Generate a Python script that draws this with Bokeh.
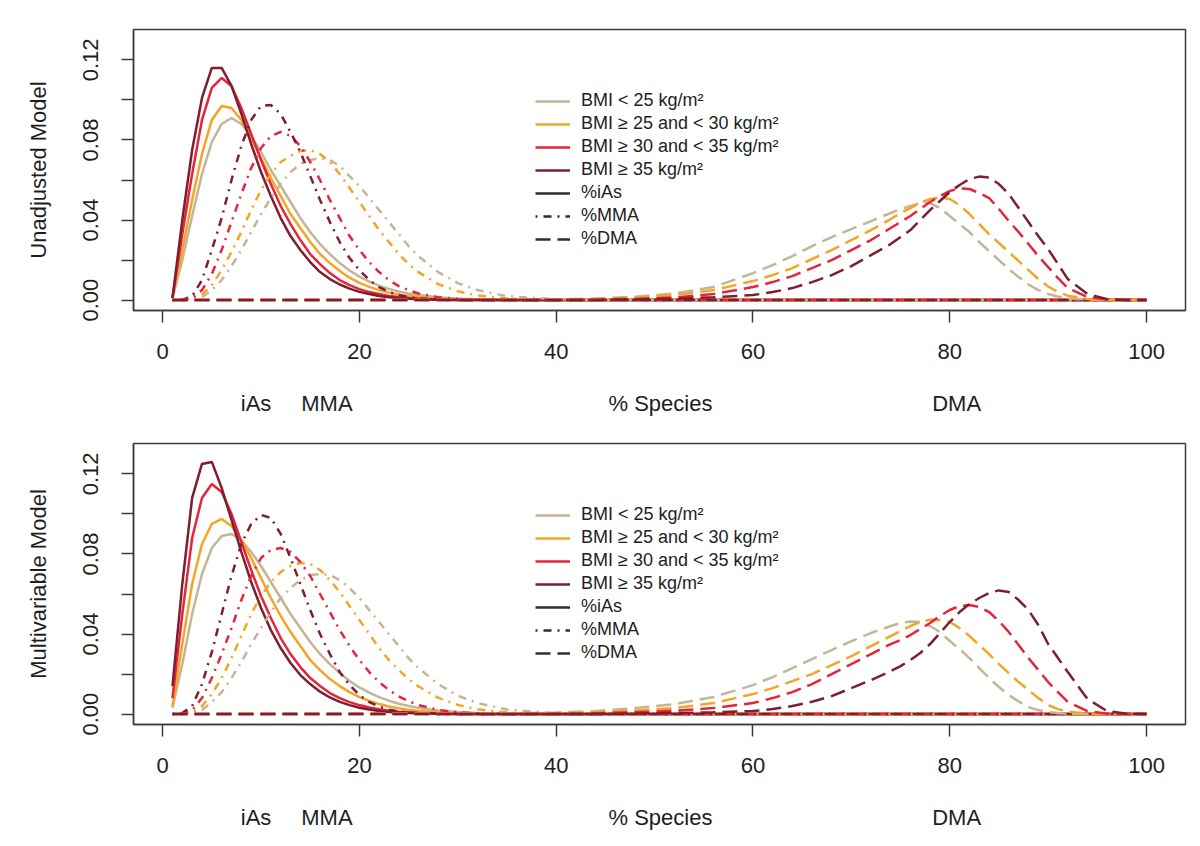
from bokeh.plotting import figure
from bokeh.layouts import column
from bokeh.models import (Range1d, FixedTicker, LinearAxis, Legend, LegendItem,
                          NumeralTickFormatter, CustomJSTickFormatter)
from bokeh.embed import file_html
from bokeh.resources import INLINE

# ---------------- data ----------------
GROUPS = ["BMI < 25 kg/m\u00b2", "BMI \u2265 25 and < 30 kg/m\u00b2",
          "BMI \u2265 30 and < 35 kg/m\u00b2", "BMI \u2265 35 kg/m\u00b2"]
COLORS = ["#c4b597", "#f5a524", "#e8233a", "#7d1f2e"]
SPECIES = ["%iAs", "%MMA", "%DMA"]
PANEL_TITLES = ["Unadjusted Model", "Multivariable Model"]
AXIS_NAMES = ["iAs", "MMA", "% Species", "DMA"]
AXIS_NAME_POS = [9.5, 16.7, 50.6, 80.7]
X_TICKS = [0, 20, 40, 60, 80, 100]
Y_TICKS = [0.0, 0.04, 0.08, 0.12]
Y_MINOR = [0.02, 0.06, 0.10]

# x grid for iAs / MMA densities
XS = [1, 2, 3, 4, 5, 6, 7, 8, 9, 10, 11, 12, 13, 14, 15, 16, 17, 18, 19, 20,
      21, 22, 23, 24, 25, 26, 28, 30, 32, 35, 40, 45, 100]
# x grid for DMA densities
XD = [1, 36, 40, 44, 48, 52, 56, 60, 62, 64, 66, 68, 70, 72,
      74, 75, 76, 77, 78, 79, 80, 81, 82, 83, 84, 85, 86, 87, 88, 89, 90, 91, 92,
      94, 96, 98, 100]

# ---- Unadjusted model ----
u_ias_1 = [0.001, 0.02, 0.042, 0.063, 0.079, 0.088, 0.091, 0.088, 0.082, 0.074, 0.065, 0.057, 0.049, 0.041, 0.034, 0.028, 0.023, 0.0185, 0.0148, 0.0117,
           0.0092, 0.0072, 0.0056, 0.0043, 0.0033, 0.0025, 0.0014, 0.0008, 0.0004, 0.0002, 0.0, 0.0, 0.0]
u_ias_2 = [0.001, 0.025, 0.05, 0.073, 0.09, 0.097, 0.096, 0.09, 0.081, 0.071, 0.061, 0.052, 0.043, 0.036, 0.029, 0.023, 0.0185, 0.0145, 0.0112, 0.0086,
           0.0066, 0.005, 0.0038, 0.0028, 0.0021, 0.0015, 0.0008, 0.0004, 0.0002, 0.0001, 0.0, 0.0, 0.0]
u_ias_3 = [0.001, 0.033, 0.063, 0.09, 0.106, 0.111, 0.107, 0.096, 0.083, 0.07, 0.058, 0.047, 0.038, 0.03, 0.023, 0.018, 0.0135, 0.01, 0.0075, 0.0055,
           0.004, 0.003, 0.0021, 0.0015, 0.001, 0.0007, 0.0003, 0.0001, 0.0, 0.0, 0.0, 0.0, 0.0]
u_ias_4 = [0.001, 0.04, 0.075, 0.101, 0.116, 0.116, 0.107, 0.093, 0.078, 0.064, 0.052, 0.041, 0.032, 0.025, 0.019, 0.014, 0.0105, 0.0078, 0.0057, 0.0041,
           0.003, 0.002, 0.0014, 0.001, 0.0007, 0.0004, 0.0002, 0.0001, 0.0, 0.0, 0.0, 0.0, 0.0]

u_mma_1 = [0.0, 0.0, 0.0003, 0.0015, 0.005, 0.01, 0.017, 0.025, 0.034, 0.043, 0.051, 0.058, 0.064, 0.068, 0.07, 0.071, 0.07, 0.067, 0.062, 0.057,
           0.051, 0.045, 0.039, 0.033, 0.027, 0.022, 0.014, 0.0085, 0.005, 0.002, 0.0004, 0.0001, 0.0]
u_mma_2 = [0.0, 0.0, 0.0005, 0.0028, 0.0075, 0.015, 0.024, 0.034, 0.045, 0.055, 0.063, 0.069, 0.072, 0.0745, 0.075, 0.073, 0.069, 0.063, 0.056, 0.049,
           0.042, 0.035, 0.029, 0.023, 0.018, 0.014, 0.008, 0.0044, 0.0023, 0.0008, 0.0001, 0.0, 0.0]
u_mma_3 = [0.0, 0.0, 0.001, 0.005, 0.013, 0.025, 0.039, 0.053, 0.066, 0.076, 0.082, 0.084, 0.082, 0.077, 0.069, 0.06, 0.05, 0.041, 0.032, 0.025,
           0.019, 0.014, 0.01, 0.007, 0.005, 0.0033, 0.0014, 0.0006, 0.0002, 0.0001, 0.0, 0.0, 0.0]
u_mma_4 = [0.0, 0.0002, 0.002, 0.01, 0.025, 0.041, 0.06, 0.077, 0.09, 0.097, 0.0975, 0.093, 0.084, 0.074, 0.062, 0.05, 0.039, 0.029, 0.021, 0.015,
           0.01, 0.0065, 0.004, 0.0025, 0.0015, 0.0009, 0.0003, 0.0001, 0.0, 0.0, 0.0, 0.0, 0.0]

u_dma_1 = [0.0, 0.0002, 0.0004, 0.0008, 0.0017, 0.0033, 0.0065, 0.0135, 0.0175, 0.022, 0.027, 0.0315, 0.0355, 0.0395,
           0.0435, 0.0455, 0.047, 0.0485, 0.0485, 0.046, 0.042, 0.038, 0.034, 0.029, 0.0245, 0.02, 0.0155, 0.0115, 0.0078, 0.005, 0.003, 0.0018, 0.001,
           0.0002, 0.0, 0.0, 0.0]
u_dma_2 = [0.0, 0.0001, 0.0002, 0.0005, 0.0012, 0.0025, 0.005, 0.0095, 0.0125, 0.016, 0.0205, 0.025, 0.03, 0.035,
           0.0405, 0.0435, 0.046, 0.0485, 0.0505, 0.0512, 0.0505, 0.0475, 0.043, 0.038, 0.033, 0.0285, 0.024, 0.0195, 0.015, 0.0105, 0.0068, 0.004, 0.0022,
           0.0006, 0.0001, 0.0, 0.0]
u_dma_3 = [0.0, 0.0, 0.0001, 0.0002, 0.0006, 0.0013, 0.003, 0.0065, 0.009, 0.012, 0.016, 0.02, 0.025, 0.03,
           0.036, 0.039, 0.042, 0.0455, 0.049, 0.052, 0.0545, 0.0558, 0.0555, 0.0535, 0.051, 0.0455, 0.0395, 0.034, 0.028, 0.022, 0.0165, 0.011, 0.006,
           0.0015, 0.0003, 0.0, 0.0]
u_dma_4 = [0.0, 0.0, 0.0, 0.0001, 0.0003, 0.0007, 0.0014, 0.0025, 0.004, 0.006, 0.009, 0.0125, 0.017, 0.0225,
           0.028, 0.0315, 0.035, 0.04, 0.045, 0.0495, 0.054, 0.0575, 0.0605, 0.0617, 0.0612, 0.058, 0.053, 0.046, 0.039, 0.032, 0.0255, 0.018, 0.0105,
           0.003, 0.0005, 0.0001, 0.0]

# ---- Multivariable model ----
m_ias_1 = [0.003, 0.025, 0.05, 0.07, 0.083, 0.089, 0.09, 0.087, 0.081, 0.074, 0.066, 0.058, 0.05, 0.043, 0.036, 0.03, 0.025, 0.0205, 0.0165, 0.0133,
           0.0107, 0.0085, 0.0067, 0.0052, 0.004, 0.0031, 0.0018, 0.001, 0.0006, 0.0002, 0.0, 0.0, 0.0]
m_ias_2 = [0.004, 0.035, 0.065, 0.085, 0.095, 0.0975, 0.094, 0.087, 0.078, 0.068, 0.058, 0.049, 0.041, 0.034, 0.027, 0.022, 0.0175, 0.014, 0.011, 0.0085,
           0.0066, 0.005, 0.0038, 0.0029, 0.0022, 0.0016, 0.0009, 0.0005, 0.0003, 0.0001, 0.0, 0.0, 0.0]
m_ias_3 = [0.008, 0.05, 0.088, 0.108, 0.115, 0.111, 0.1, 0.086, 0.072, 0.059, 0.048, 0.038, 0.03, 0.0235, 0.018, 0.014, 0.0105, 0.008, 0.006, 0.0045,
           0.0033, 0.0024, 0.0017, 0.0012, 0.0009, 0.0006, 0.0003, 0.0001, 0.0, 0.0, 0.0, 0.0, 0.0]
m_ias_4 = [0.014, 0.065, 0.108, 0.125, 0.126, 0.113, 0.097, 0.081, 0.066, 0.053, 0.042, 0.033, 0.0255, 0.0195, 0.015, 0.0112, 0.0083, 0.0061, 0.0045, 0.0032,
           0.0023, 0.0016, 0.0011, 0.0008, 0.0005, 0.0004, 0.0002, 0.0001, 0.0, 0.0, 0.0, 0.0, 0.0]

m_mma_1 = [0.0, 0.0, 0.0005, 0.002, 0.006, 0.011, 0.018, 0.026, 0.035, 0.043, 0.051, 0.058, 0.063, 0.067, 0.0695, 0.07, 0.0695, 0.067, 0.063, 0.058,
           0.052, 0.046, 0.04, 0.034, 0.028, 0.023, 0.015, 0.0092, 0.0055, 0.0023, 0.0004, 0.0001, 0.0]
m_mma_2 = [0.0, 0.0001, 0.001, 0.004, 0.01, 0.018, 0.028, 0.039, 0.05, 0.059, 0.066, 0.071, 0.074, 0.0755, 0.075, 0.072, 0.067, 0.061, 0.054, 0.047,
           0.04, 0.033, 0.027, 0.022, 0.0175, 0.0138, 0.0082, 0.0046, 0.0024, 0.0008, 0.0001, 0.0, 0.0]
m_mma_3 = [0.0, 0.0002, 0.002, 0.008, 0.018, 0.03, 0.043, 0.057, 0.069, 0.078, 0.082, 0.083, 0.081, 0.076, 0.069, 0.06, 0.051, 0.042, 0.034, 0.027,
           0.021, 0.016, 0.012, 0.0088, 0.0065, 0.0045, 0.0021, 0.0009, 0.0004, 0.0001, 0.0, 0.0, 0.0]
m_mma_4 = [0.0, 0.0005, 0.004, 0.015, 0.031, 0.05, 0.069, 0.085, 0.095, 0.0995, 0.098, 0.09, 0.078, 0.065, 0.052, 0.04, 0.03, 0.021, 0.0145, 0.0095,
           0.006, 0.0037, 0.0022, 0.0013, 0.0008, 0.0004, 0.0001, 0.0, 0.0, 0.0, 0.0, 0.0, 0.0]

m_dma_1 = [0.0, 0.0004, 0.0008, 0.0015, 0.003, 0.005, 0.0085, 0.0145, 0.0185, 0.023, 0.0275, 0.032, 0.0365, 0.0405,
           0.044, 0.0455, 0.0463, 0.046, 0.044, 0.041, 0.0365, 0.0325, 0.028, 0.023, 0.018, 0.0135, 0.0095, 0.0063, 0.0035, 0.002, 0.001, 0.0005, 0.0002,
           0.0, 0.0, 0.0, 0.0]
m_dma_2 = [0.0, 0.0002, 0.0005, 0.001, 0.0018, 0.003, 0.0055, 0.01, 0.013, 0.0165, 0.02, 0.0245, 0.029, 0.034,
           0.039, 0.0415, 0.044, 0.046, 0.0472, 0.047, 0.046, 0.043, 0.039, 0.0345, 0.03, 0.025, 0.0205, 0.016, 0.012, 0.008, 0.0045, 0.0025, 0.0012,
           0.0002, 0.0, 0.0, 0.0]
m_dma_3 = [0.0, 0.0001, 0.0002, 0.0004, 0.0009, 0.0017, 0.003, 0.0055, 0.008, 0.011, 0.015, 0.02, 0.025, 0.03,
           0.035, 0.037, 0.0395, 0.0425, 0.0455, 0.049, 0.052, 0.054, 0.0545, 0.0535, 0.051, 0.0465, 0.041, 0.0345, 0.028, 0.022, 0.016, 0.011, 0.006,
           0.0015, 0.0002, 0.0, 0.0]
m_dma_4 = [0.0, 0.0, 0.0001, 0.0001, 0.0003, 0.0005, 0.0009, 0.0015, 0.0025, 0.004, 0.0062, 0.009, 0.013, 0.017,
           0.0215, 0.024, 0.027, 0.0305, 0.035, 0.0405, 0.046, 0.051, 0.055, 0.058, 0.0605, 0.0618, 0.061, 0.057, 0.052, 0.0445, 0.035, 0.028, 0.021,
           0.0075, 0.0015, 0.0002, 0.0]

PANELS = [
    {"ias": [u_ias_1, u_ias_2, u_ias_3, u_ias_4],
     "mma": [u_mma_1, u_mma_2, u_mma_3, u_mma_4],
     "dma": [u_dma_1, u_dma_2, u_dma_3, u_dma_4]},
    {"ias": [m_ias_1, m_ias_2, m_ias_3, m_ias_4],
     "mma": [m_mma_1, m_mma_2, m_mma_3, m_mma_4],
     "dma": [m_dma_1, m_dma_2, m_dma_3, m_dma_4]},
]

# ---------------- styling ----------------
FONT = "Liberation Sans"
TXT = "#1e1e1e"
AX = "#3c3c3c"
LW = 2.5
DASH = {"%iAs": "solid", "%MMA": "2 6 8 6", "%DMA": "15 7"}
NAN = float("nan")


def make_panel(title, data, top_border):
    p = figure(x_range=Range1d(-2.96, 103.96), y_range=Range1d(-0.0052, 0.1352),
               frame_width=1052, frame_height=281,
               min_border_left=133, min_border_right=7, min_border_top=top_border,
               min_border_bottom=112, output_backend="svg", toolbar_location=None,
               x_axis_type=None, y_axis_type=None,
               background_fill_color="white", border_fill_color="white")
    p.outline_line_color = AX
    p.outline_line_width = 1.5
    p.xgrid.visible = False
    p.ygrid.visible = False

    # y axis
    ya = LinearAxis(ticker=FixedTicker(ticks=Y_TICKS, minor_ticks=Y_MINOR),
                    formatter=NumeralTickFormatter(format="0.00"))
    ya.axis_label = title
    ya.axis_label_text_font = FONT
    ya.axis_label_text_font_size = "22px"
    ya.axis_label_text_font_style = "normal"
    ya.axis_label_text_color = TXT
    ya.axis_label_standoff = 30
    ya.major_label_orientation = "vertical"
    ya.major_label_text_font = FONT
    ya.major_label_text_font_size = "22px"
    ya.major_label_text_color = TXT
    ya.major_label_standoff = 23
    ya.major_tick_out = 12
    ya.major_tick_in = 0
    ya.minor_tick_out = 12
    ya.minor_tick_in = 0
    ya.major_tick_line_color = AX
    ya.minor_tick_line_color = AX
    ya.major_tick_line_width = 1.5
    ya.minor_tick_line_width = 1.5
    ya.axis_line_color = AX
    ya.axis_line_width = 1.5
    p.add_layout(ya, "left")

    # x axis
    xa = LinearAxis(ticker=FixedTicker(ticks=X_TICKS))
    xa.major_label_text_font = FONT
    xa.major_label_text_font_size = "22px"
    xa.major_label_text_color = TXT
    xa.major_label_standoff = 21
    xa.major_tick_out = 12
    xa.major_tick_in = 0
    xa.major_tick_line_color = AX
    xa.major_tick_line_width = 1.5
    xa.minor_tick_line_color = None
    xa.axis_line_color = AX
    xa.axis_line_width = 1.5
    p.add_layout(xa, "below")

    # species label axis
    na = LinearAxis(ticker=FixedTicker(ticks=AXIS_NAME_POS),
                    formatter=CustomJSTickFormatter(
                        args=dict(pos=AXIS_NAME_POS, names=AXIS_NAMES),
                        code="const i = pos.indexOf(tick); return i >= 0 ? names[i] : '';"))
    na.major_label_text_font = FONT
    na.major_label_text_font_size = "22px"
    na.major_label_text_color = TXT
    na.major_label_standoff = 23
    na.major_tick_line_color = None
    na.minor_tick_line_color = None
    na.axis_line_color = None
    p.add_layout(na, "below")

    ias_r = []
    for key, sp in (("ias", "%iAs"), ("mma", "%MMA"), ("dma", "%DMA")):
        xs = XD if key == "dma" else XS
        for ys, c in zip(data[key], COLORS):
            r = p.line(xs, ys, line_color=c, line_width=LW, line_dash=DASH[sp])
            if key == "ias":
                ias_r.append(r)

    # legend-only renderers for line styles (no visible data)
    dummies = []
    for sp in SPECIES:
        dummies.append(p.line([NAN, NAN], [NAN, NAN], line_color="#2e2e2e",
                              line_width=LW, line_dash=DASH[sp]))

    items = [LegendItem(label=g, renderers=[r]) for g, r in zip(GROUPS, ias_r)]
    items += [LegendItem(label=s, renderers=[r]) for s, r in zip(SPECIES, dummies)]
    leg = Legend(items=items, location=(402, 61))
    leg.label_text_font = FONT
    leg.label_text_font_size = "18px"
    leg.label_text_color = TXT
    leg.glyph_width = 35
    leg.glyph_height = 20
    leg.label_height = 20
    leg.spacing = 2
    leg.padding = 0
    leg.margin = 0
    leg.label_standoff = 11
    leg.border_line_color = None
    leg.background_fill_alpha = 0
    p.add_layout(leg, "center")
    return p


plots = [make_panel(t, d, b) for t, d, b in zip(PANEL_TITLES, PANELS, [29, 21])]
layout = column(*plots)

open("out.html", "w").write(file_html(layout, INLINE))
